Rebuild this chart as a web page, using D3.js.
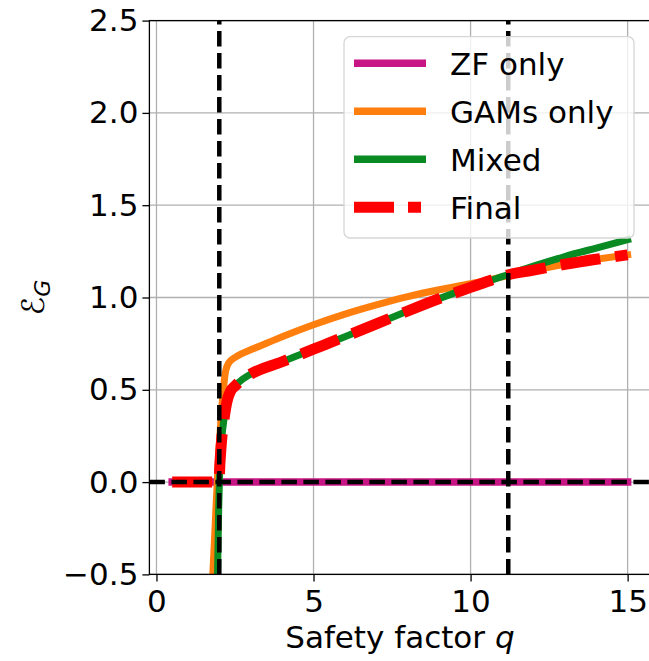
<!DOCTYPE html>
<html>
<head>
<meta charset="utf-8">
<script src="https://cdn.jsdelivr.net/npm/d3@7"></script>
<style>
  body { margin: 0; background: #fff; }
  text { font-family: "DejaVu Sans", sans-serif; fill: #000; }
</style>
</head>
<body>
<div id="chart"></div>
<script>
// data
var zfQ = [0.5, 15];
var zfE = [0, 0];

var gamsQ = [1.78, 1.85, 1.9, 1.95, 2.0, 2.07, 2.13, 2.2, 2.3, 2.5, 2.7, 3.0, 3.5, 4, 5, 6, 7, 8, 9, 10, 11, 12, 13, 14, 15];
var gamsE = [-0.55, -0.3, -0.12, 0.05, 0.2, 0.38, 0.5, 0.6, 0.645, 0.675, 0.695, 0.717, 0.752, 0.787, 0.852, 0.91, 0.96, 1.005, 1.042, 1.075, 1.112, 1.148, 1.18, 1.207, 1.231];

var mixedQ = [1.94, 1.98, 2.02, 2.08, 2.15, 2.25, 2.35, 2.5, 2.75, 3, 4, 5, 6, 7, 8, 9, 10, 11, 12, 13, 14, 15];
var mixedE = [-0.55, -0.15, 0.1, 0.24, 0.34, 0.44, 0.49, 0.52, 0.558, 0.585, 0.652, 0.72, 0.788, 0.857, 0.927, 0.994, 1.055, 1.113, 1.17, 1.222, 1.268, 1.313];

var finalQ = [0.5, 1.99, 2.02, 2.08, 2.15, 2.25, 2.35, 2.5, 2.75, 3, 4, 5, 6, 7, 8, 9, 10, 11, 11.2, 12, 13, 14, 15];
var finalE = [0, 0, 0.1, 0.24, 0.34, 0.44, 0.49, 0.52, 0.558, 0.585, 0.652, 0.72, 0.788, 0.857, 0.927, 0.994, 1.055, 1.113, 1.123, 1.148, 1.18, 1.207, 1.231];

var vLines = [2.0, 11.2];
var hLine = 0;

var xTicks = [0, 5, 10, 15];
var yTicks = [-0.5, 0.0, 0.5, 1.0, 1.5, 2.0, 2.5];

var legendNames = ["ZF only", "GAMs only", "Mixed", "Final"];

var svgWidth = 649;
var svgHeight = 661;
var fontSize = 31;

var margin = { top: 20.6, left: 149.4 };
var width = 501;
var height = 553.8;

var svg = d3.select("#chart")
  .append("svg")
  .attr("width", svgWidth)
  .attr("height", svgHeight);

svg.append("rect")
  .attr("width", svgWidth)
  .attr("height", svgHeight)
  .attr("fill", "#fff");

var x = d3.scaleLinear().domain([-0.225, 15.725]).range([margin.left, margin.left + width]);
var y = d3.scaleLinear().domain([-0.5, 2.5]).range([margin.top + height, margin.top]);

svg.append("clipPath").attr("id", "plotclip")
  .append("rect")
  .attr("x", margin.left).attr("y", margin.top)
  .attr("width", width).attr("height", height);

// grid
var grid = svg.append("g");
grid.selectAll(".gx").data(xTicks).enter().append("line")
  .attr("x1", d => x(d)).attr("x2", d => x(d))
  .attr("y1", margin.top).attr("y2", margin.top + height)
  .attr("stroke", "#b0b0b0").attr("stroke-width", 1.3);
grid.selectAll(".gy").data(yTicks).enter().append("line")
  .attr("y1", d => y(d)).attr("y2", d => y(d))
  .attr("x1", margin.left).attr("x2", margin.left + width)
  .attr("stroke", "#b0b0b0").attr("stroke-width", 1.3);

var plot = svg.append("g").attr("clip-path", "url(#plotclip)");

function pairs(qs, es) {
  return qs.map((q, i) => [q, es[i]]);
}

var line = d3.line()
  .x(d => x(d[0]))
  .y(d => y(d[1]))
  .curve(d3.curveMonotoneX);

var series = [
  { q: zfQ, e: zfE, color: "#c71585", w: 7.5, dash: null },
  { q: gamsQ, e: gamsE, color: "#ff7f0e", w: 7, dash: null },
  { q: mixedQ, e: mixedE, color: "#0a8a22", w: 7, dash: null },
  { q: finalQ, e: finalE, color: "#ff0000", w: 11, dash: "40,15" }
];

series.forEach(function (s) {
  plot.append("path")
    .datum(pairs(s.q, s.e))
    .attr("d", line)
    .attr("fill", "none")
    .attr("stroke", s.color)
    .attr("stroke-width", s.w)
    .attr("stroke-dasharray", s.dash)
    .attr("stroke-linejoin", "round")
    .attr("stroke-linecap", s.dash ? "butt" : "square");
});

// black dashed reference lines
plot.append("line")
  .attr("x1", margin.left).attr("x2", margin.left + width)
  .attr("y1", y(hLine)).attr("y2", y(hLine))
  .attr("stroke", "#000").attr("stroke-width", 4.5)
  .attr("stroke-dasharray", "15.5,6.5");
plot.selectAll(".vl").data(vLines).enter().append("line")
  .attr("x1", d => x(d)).attr("x2", d => x(d))
  .attr("y1", margin.top + height).attr("y2", margin.top)
  .attr("stroke", "#000").attr("stroke-width", 4.5)
  .attr("stroke-dasharray", "15.5,6.5");

// spines
svg.append("rect")
  .attr("x", margin.left).attr("y", margin.top)
  .attr("width", width).attr("height", height)
  .attr("fill", "none").attr("stroke", "#000").attr("stroke-width", 1.3);

// axes
var xAxis = svg.append("g")
  .attr("transform", `translate(0, ${margin.top + height})`)
  .call(d3.axisBottom(x).tickValues(xTicks).tickSize(7).tickSizeOuter(0).tickPadding(9).tickFormat(d3.format("d")));
var yAxis = svg.append("g")
  .attr("transform", `translate(${margin.left}, 0)`)
  .call(d3.axisLeft(y).tickValues(yTicks).tickSize(7).tickSizeOuter(0).tickPadding(4)
    .tickFormat(d => d < 0 ? "\u2212" + Math.abs(d).toFixed(1) : d.toFixed(1)));

[xAxis, yAxis].forEach(function (a) {
  a.select(".domain").remove();
  a.selectAll(".tick line").attr("stroke", "#000").attr("stroke-width", 1.3);
  a.selectAll("text").attr("font-family", "DejaVu Sans").attr("font-size", fontSize).attr("fill", "#000");
});

// axis labels
svg.append("text")
  .attr("x", margin.left + width / 2)
  .attr("y", 648)
  .attr("text-anchor", "middle")
  .attr("font-size", fontSize)
  .html('Safety factor <tspan font-style="italic">q</tspan>');

var yLabel = svg.append("text")
  .attr("transform", `translate(44, ${margin.top + height / 2}) rotate(-90)`)
  .attr("text-anchor", "middle")
  .attr("font-size", fontSize);
yLabel.append("tspan").text("\u2130");
yLabel.append("tspan").attr("font-size", 22).attr("font-style", "italic").attr("dy", 6).text("G");

// legend
var legend = svg.append("g");
legend.append("rect")
  .attr("x", 344).attr("y", 36.7)
  .attr("width", 290).attr("height", 201.3)
  .attr("rx", 6)
  .attr("fill", "#fff").attr("fill-opacity", 0.8)
  .attr("stroke", "#d6d6d6").attr("stroke-width", 1.3);

var legendRows = legend.selectAll(".row")
  .data(series)
  .enter().append("g")
  .attr("transform", (d, i) => `translate(0, ${63.3 + i * 48})`);

legendRows.append("line")
  .attr("x1", 354).attr("x2", 426)
  .attr("stroke", d => d.color)
  .attr("stroke-width", d => d.dash ? 11 : 7.5)
  .attr("stroke-dasharray", d => d.dash ? "40,14,13,50" : null);

legendRows.append("text")
  .attr("x", 450)
  .attr("dy", "0.37em")
  .attr("font-size", fontSize)
  .text((d, i) => legendNames[i]);
</script>
</body>
</html>
